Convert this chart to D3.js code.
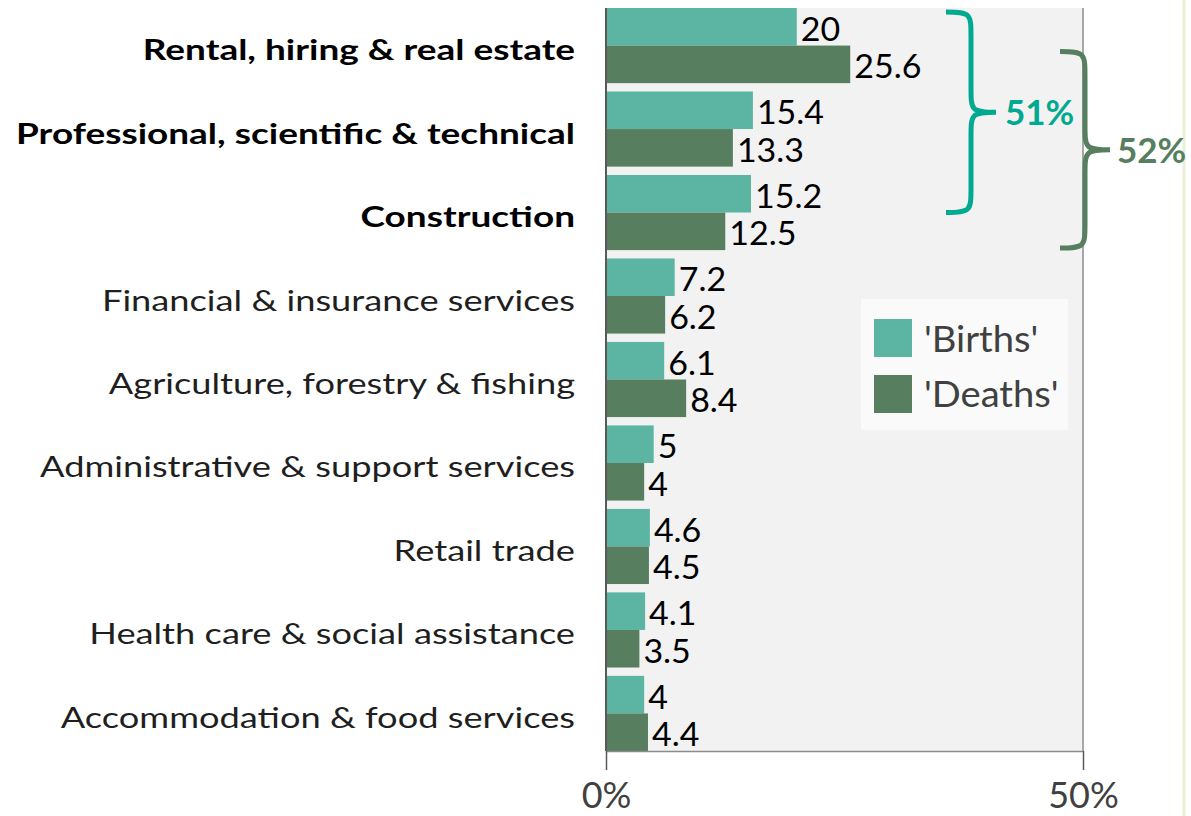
<!DOCTYPE html>
<html>
<head>
<meta charset="utf-8">
<script src="https://cdn.jsdelivr.net/npm/d3@7"></script>
<style>
  body { margin: 0; background: #fff; }
  text { font-family: Lato, "Noto Sans", sans-serif; }
</style>
</head>
<body>
<div id="svg-container"></div>
<script>
let w = 1191;
let h = 816;

// data
let categories = ['Rental, hiring & real estate', 'Professional, scientific & technical', 'Construction',
  'Financial & insurance services', 'Agriculture, forestry & fishing', 'Administrative & support services',
  'Retail trade', 'Health care & social assistance', 'Accommodation & food services'];
let highlighted = ['Rental, hiring & real estate', 'Professional, scientific & technical', 'Construction'];
let births = [20, 15.4, 15.2, 7.2, 6.1, 5, 4.6, 4.1, 4];
let deaths = [25.6, 13.3, 12.5, 6.2, 8.4, 4, 4.5, 3.5, 4.4];
let seriesNames = ["'Births'", "'Deaths'"];
let xTicks = [0, 50];
let braceLabels = ['51%', '52%'];

let birthColor = '#5cb5a2';
let deathColor = '#567e5f';
let braceTeal = '#00a98f';

let pLeft = 606, pRight = 1083, pTop = 8, pBottom = 751;

let svg = d3.select('#svg-container').
append('svg').
attr('width', w).
attr('height', h);

// text is a bit wider than Lato in the original, so stretch it sideways
function place(sel, xf, yf, sx) {
  return sel.attr('transform', (d, i) => 'translate(' + xf(d, i) + ',' + yf(d, i) + ') scale(' + sx(d, i) + ',1)');
}

// faint line on the right edge
svg.append('line').
attr('x1', 1184).attr('x2', 1184).attr('y1', 0).attr('y2', h).
attr('stroke', '#eaf0d6').attr('stroke-width', 3);

let x = d3.scaleLinear().domain([0, 50]).range([pLeft, pRight]);
let y = d3.scaleBand().domain(categories).range([pTop, pBottom]).paddingInner(0.1).paddingOuter(0);
let half = y.bandwidth() / 2;

// plot area
svg.append('rect').
attr('x', pLeft).attr('y', pTop).
attr('width', pRight - pLeft).attr('height', pBottom - pTop).
attr('fill', '#f2f2f2');

svg.append('line').
attr('x1', pRight).attr('x2', pRight).attr('y1', pTop).attr('y2', pBottom).
attr('stroke', '#8c8c8c').attr('stroke-width', 1.5);

// bars
let rows = categories.map((c, i) => ({ cat: c, b: births[i], d: deaths[i] }));

let g = svg.append('g');
g.selectAll('rect.birth').
data(rows).
enter().
append('rect').
attr('x', x(0)).
attr('y', d => y(d.cat)).
attr('width', d => x(d.b) - x(0)).
attr('height', half).
attr('fill', birthColor);

g.selectAll('rect.death').
data(rows).
enter().
append('rect').
attr('x', x(0)).
attr('y', d => y(d.cat) + half).
attr('width', d => x(d.d) - x(0)).
attr('height', half).
attr('fill', deathColor);

// value labels
place(g.selectAll('text.bv').
data(rows).
enter().
append('text'), d => x(d.b) + 4, d => y(d.cat) + half / 2, () => 1.03).
attr('dy', '0.42em').
attr('font-size', 33).
attr('fill', '#000').
text(d => d.b);

place(g.selectAll('text.dv').
data(rows).
enter().
append('text'), d => x(d.d) + 4, d => y(d.cat) + half * 1.5, () => 1.03).
attr('dy', '0.42em').
attr('font-size', 33).
attr('fill', '#000').
text(d => d.d);

// category labels
place(svg.append('g').selectAll('text').
data(categories).
enter().
append('text'), d => 575, d => y(d) + y.bandwidth() / 2, d => highlighted.includes(d) ? 1.275 : 1.25).
attr('dy', '0.5em').
attr('text-anchor', 'end').
attr('font-size', 29).
attr('font-weight', d => highlighted.includes(d) ? 'bold' : 'normal').
attr('fill', d => highlighted.includes(d) ? '#000' : '#1f1f1f').
text(d => d);

// axes
svg.append('line').
attr('x1', pLeft).attr('x2', pLeft).attr('y1', pTop).attr('y2', pBottom).
attr('stroke', '#595959').attr('stroke-width', 2);

let xAxis = d3.axisBottom(x).tickValues(xTicks).tickSize(19).tickSizeOuter(0).tickFormat(d => d + '%');
let ax = svg.append('g').
attr('transform', 'translate(0,' + pBottom + ')').
call(xAxis);
ax.select('.domain').attr('stroke', '#8c8c8c').attr('stroke-width', 1.5);
ax.selectAll('.tick line').attr('stroke', '#595959').attr('stroke-width', 1.5);
ax.selectAll('.tick text').
attr('font-size', 36).
attr('font-family', 'Lato, sans-serif').
attr('fill', '#404040').
attr('y', 57).
attr('dy', 0);

// legend
let legend = svg.append('g').attr('transform', 'translate(861,299)');
legend.append('rect').attr('width', 207).attr('height', 131).attr('fill', '#fafafa');
legend.selectAll('rect.sw').
data(seriesNames).
enter().
append('rect').
attr('x', 13).
attr('y', (d, i) => 20 + i * 56).
attr('width', 38).
attr('height', 38).
attr('fill', (d, i) => i === 0 ? birthColor : deathColor);
place(legend.selectAll('text').
data(seriesNames).
enter().
append('text'), d => 63, (d, i) => 52.7 + i * 55, () => 1.06).
attr('font-size', 36).
attr('fill', '#404040').
text(d => d);

// curly braces
function brace(x0, y0, y1, wd) {
  let m = (y0 + y1) / 2;
  let r = wd / 2;
  return 'M' + x0 + ',' + y0 +
  ' C' + (x0 + r) + ',' + y0 + ' ' + (x0 + r) + ',' + (y0 + 2) + ' ' + (x0 + r) + ',' + (y0 + r) +
  ' L' + (x0 + r) + ',' + (m - r) +
  ' C' + (x0 + r) + ',' + (m - 2) + ' ' + (x0 + r) + ',' + m + ' ' + (x0 + wd) + ',' + m +
  ' C' + (x0 + r) + ',' + m + ' ' + (x0 + r) + ',' + (m + 2) + ' ' + (x0 + r) + ',' + (m + r) +
  ' L' + (x0 + r) + ',' + (y1 - r) +
  ' C' + (x0 + r) + ',' + (y1 - 2) + ' ' + (x0 + r) + ',' + y1 + ' ' + x0 + ',' + y1;
}

let b0 = y(categories[0]) + 4;
let b1 = y(categories[2]) + half;
svg.append('path').
attr('d', brace(946, b0, b1, 50)).
attr('fill', 'none').attr('stroke', braceTeal).attr('stroke-width', 5);
svg.append('text').
attr('x', 1005).attr('y', (b0 + b1) / 2).attr('dy', '0.37em').
attr('font-size', 35).attr('font-weight', 'bold').attr('fill', braceTeal).
text(braceLabels[0]);

let c0 = y(categories[0]) + half + 6;
let c1 = y(categories[2]) + y.bandwidth() - 2;
svg.append('path').
attr('d', brace(1060, c0, c1, 50)).
attr('fill', 'none').attr('stroke', deathColor).attr('stroke-width', 5);
svg.append('text').
attr('x', 1117).attr('y', (c0 + c1) / 2).attr('dy', '0.37em').
attr('font-size', 35).attr('font-weight', 'bold').attr('fill', deathColor).
text(braceLabels[1]);
</script>
</body>
</html>
